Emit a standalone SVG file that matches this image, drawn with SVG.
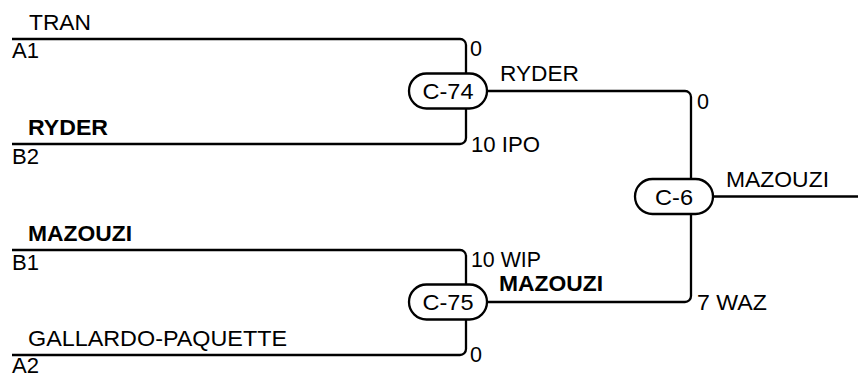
<svg xmlns="http://www.w3.org/2000/svg" width="858" height="377" viewBox="0 0 858 377">
<style>
  .ln { fill: none; stroke: #000; stroke-width: 2.3; }
  .pill { fill: #fff; stroke: #000; stroke-width: 2.3; }
  text { font-family: "Liberation Sans", Arial, sans-serif; font-size: 22px; fill: #000; }
  .b { font-weight: bold; }
  .c { text-anchor: middle; }
</style>
<rect width="858" height="377" fill="#fff"/>
<g id="connectors">
  <path class="ln" d="M12,39 H460 A6,6 0 0 1 466,45 V73.5"/>
  <path class="ln" d="M12,144 H460 A6,6 0 0 0 466,138 V108.5"/>
  <path class="ln" d="M12,250 H460 A6,6 0 0 1 466,256 V284.5"/>
  <path class="ln" d="M12,355 H460 A6,6 0 0 0 466,349 V319.5"/>
  <path class="ln" d="M487,91 H685 A6,6 0 0 1 691,97 V179"/>
  <path class="ln" d="M487,302 H685 A6,6 0 0 0 691,296 V214"/>
  <path class="ln" d="M713,196.5 H858"/>
</g>
<g id="slots">
  <text x="29" y="29.5" textLength="62" lengthAdjust="spacingAndGlyphs">TRAN</text>
  <text x="12" y="57.5" textLength="27" lengthAdjust="spacingAndGlyphs">A1</text>
  <text class="b" x="28" y="135" textLength="80" lengthAdjust="spacingAndGlyphs">RYDER</text>
  <text x="12" y="163.5" textLength="27" lengthAdjust="spacingAndGlyphs">B2</text>
  <text class="b" x="28" y="241" textLength="104" lengthAdjust="spacingAndGlyphs">MAZOUZI</text>
  <text x="12" y="269.5" textLength="27" lengthAdjust="spacingAndGlyphs">B1</text>
  <text x="28" y="346" textLength="259" lengthAdjust="spacingAndGlyphs">GALLARDO-PAQUETTE</text>
  <text x="12" y="372.5" textLength="27" lengthAdjust="spacingAndGlyphs">A2</text>
</g>
<g id="C-74">
  <rect class="pill" x="409" y="73.5" width="78" height="35" rx="17.5"/>
  <text class="c" x="448" y="99" textLength="51" lengthAdjust="spacingAndGlyphs">C-74</text>
  <text x="470" y="55.5" textLength="12" lengthAdjust="spacingAndGlyphs">0</text>
  <text x="471" y="152" textLength="69" lengthAdjust="spacingAndGlyphs">10 IPO</text>
  <text x="500" y="81" textLength="79" lengthAdjust="spacingAndGlyphs">RYDER</text>
</g>
<g id="C-75">
  <rect class="pill" x="409" y="284.5" width="78" height="35" rx="17.5"/>
  <text class="c" x="448" y="310" textLength="51" lengthAdjust="spacingAndGlyphs">C-75</text>
  <text x="471" y="266.5" textLength="70" lengthAdjust="spacingAndGlyphs">10 WIP</text>
  <text x="470" y="362" textLength="12" lengthAdjust="spacingAndGlyphs">0</text>
  <text class="b" x="499" y="291" textLength="104" lengthAdjust="spacingAndGlyphs">MAZOUZI</text>
</g>
<g id="C-6">
  <rect class="pill" x="635" y="179" width="78" height="35" rx="17.5"/>
  <text class="c" x="674" y="204.5" textLength="38" lengthAdjust="spacingAndGlyphs">C-6</text>
  <text x="697" y="108.5" textLength="12" lengthAdjust="spacingAndGlyphs">0</text>
  <text x="697" y="309.5" textLength="70" lengthAdjust="spacingAndGlyphs">7 WAZ</text>
  <text x="726" y="187" textLength="103" lengthAdjust="spacingAndGlyphs">MAZOUZI</text>
</g>
</svg>
